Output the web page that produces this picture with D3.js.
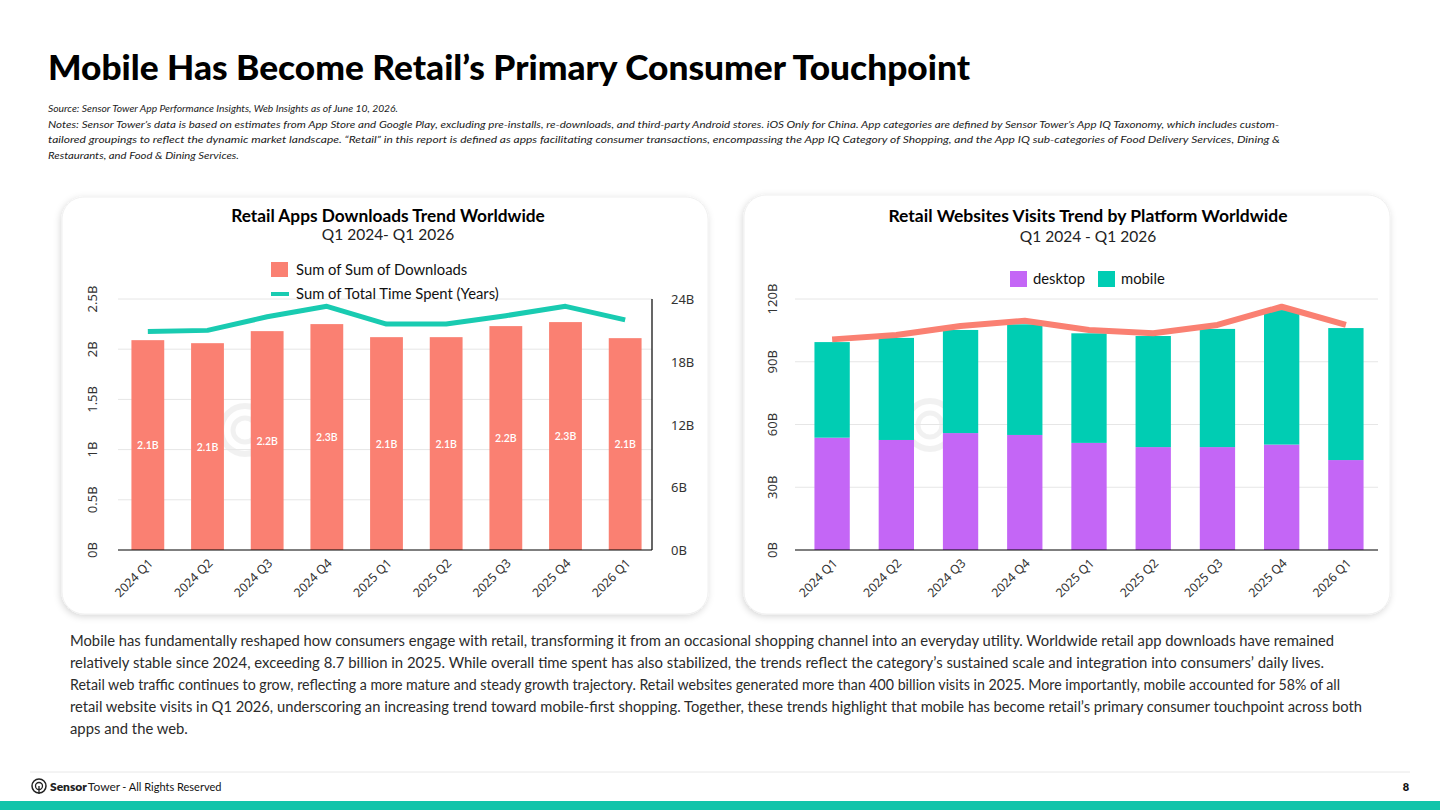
<!DOCTYPE html>
<html><head><meta charset="utf-8">
<script src="https://cdn.jsdelivr.net/npm/d3@7/dist/d3.min.js"></script>
<style>
html,body{margin:0;padding:0;background:#fff;}
svg{display:block;}
</style></head>
<body>
<svg id="chart" width="1440" height="810"></svg>
<script>
// ---------- DATA ----------
const quarters = ["2024 Q1","2024 Q2","2024 Q3","2024 Q4","2025 Q1","2025 Q2","2025 Q3","2025 Q4","2026 Q1"];
const downloadsB = [2.09, 2.06, 2.18, 2.25, 2.12, 2.12, 2.23, 2.27, 2.11];      // billions
const timeSpentB = [20.9, 21.0, 22.3, 23.3, 21.6, 21.6, 22.4, 23.3, 22.0];      // billions (years)
const desktopB = [53.7, 52.6, 55.9, 55.0, 51.2, 49.2, 49.2, 50.4, 43.0];        // billions visits
const mobileB  = [45.7, 48.8, 49.3, 52.9, 52.4, 53.1, 56.5, 64.3, 63.1];
const visitsLineB = [100.7, 102.8, 107.1, 109.6, 105.2, 103.6, 107.6, 116.3, 107.6];
const leftTicks = [0, 0.5, 1, 1.5, 2, 2.5];
const leftTickLabels = ["0B","0.5B","1B","1.5B","2B","2.5B"];
const rightTicks = [0, 6, 12, 18, 24];
const rightTickLabels = ["0B","6B","12B","18B","24B"];
const visitTicks = [0, 30, 60, 90, 120];
const visitTickLabels = ["0B","30B","60B","90B","120B"];

const titleText = "Mobile Has Become Retail\u2019s Primary Consumer Touchpoint";
const noteLines = [
 "Source: Sensor Tower App Performance Insights, Web Insights as of June 10, 2026.",
 "Notes: Sensor Tower\u2019s data is based on estimates from App Store and Google Play, excluding pre-installs, re-downloads, and third-party Android stores. iOS Only for China. App categories are defined by Sensor Tower\u2019s App IQ Taxonomy, which includes custom-",
 "tailored groupings to reflect the dynamic market landscape. \u201cRetail\u201d in this report is defined as apps facilitating consumer transactions, encompassing the App IQ Category of Shopping, and the App IQ sub-categories of Food Delivery Services, Dining &",
 "Restaurants, and Food & Dining Services."
];
const bodyLines = [
 "Mobile has fundamentally reshaped how consumers engage with retail, transforming it from an occasional shopping channel into an everyday utility. Worldwide retail app downloads have remained",
 "relatively stable since 2024, exceeding 8.7 billion in 2025. While overall time spent has also stabilized, the trends reflect the category\u2019s sustained scale and integration into consumers\u2019 daily lives.",
 "Retail web traffic continues to grow, reflecting a more mature and steady growth trajectory. Retail websites generated more than 400 billion visits in 2025. More importantly, mobile accounted for 58% of all",
 "retail website visits in Q1 2026, underscoring an increasing trend toward mobile-first shopping. Together, these trends highlight that mobile has become retail\u2019s primary consumer touchpoint across both",
 "apps and the web."
];

// ---------- STYLE ----------
const C = {salmon:"#FA8072", teal:"#19CBB1", purple:"#C466F6", mobile:"#00CDB3", grid:"#E6E6E6", text:"#333", footerTeal:"#12C4AA"};
const FONT = "Lato, 'Noto Sans', sans-serif";
const AXFONT = "'Noto Sans', sans-serif";

const svg = d3.select("#chart");
const defs = svg.append("defs");
const f = defs.append("filter").attr("id","shadow").attr("x","-10%").attr("y","-10%").attr("width","120%").attr("height","120%");
f.append("feDropShadow").attr("dx",-1).attr("dy",2).attr("stdDeviation",3.5).attr("flood-color","#000").attr("flood-opacity",0.16);

// Title
svg.append("text").attr("x",48).attr("y",80).attr("font-family",FONT).attr("font-weight",900)
  .attr("font-size",33.5).attr("fill","#000").attr("textLength",922).attr("lengthAdjust","spacingAndGlyphs").text(titleText);

// Notes
const noteY = [112, 127.5, 143, 158.5];
const noteLen = [350, 1231, 1232, 191];
noteLines.forEach((t,i)=>{
  svg.append("text").attr("x",48).attr("y",noteY[i]).attr("font-family",FONT).attr("font-style","italic")
    .attr("font-size",10.2).attr("fill","#222").attr("textLength",noteLen[i]).attr("lengthAdjust","spacingAndGlyphs").text(t);
});

// Cards
[[62,197,646,417],[744,195,646,419]].forEach(([x,y,w,h])=>{
  svg.append("rect").attr("x",x).attr("y",y).attr("width",w).attr("height",h).attr("rx",22)
    .attr("fill","#fff").attr("stroke","#F0F0F0").attr("filter","url(#shadow)");
});

// Watermark (logo mark only)
function watermark(cx, cy){
  const g = svg.append("g").attr("opacity",0.05);
  g.append("circle").attr("cx",cx).attr("cy",cy).attr("r",24).attr("fill","none").attr("stroke","#000").attr("stroke-width",6);
  g.append("circle").attr("cx",cx).attr("cy",cy).attr("r",12).attr("fill","none").attr("stroke","#000").attr("stroke-width",5);
}

// ---------- LEFT CHART ----------
{
  const x0=118, x1=655, yTop=299, yBot=550;
  watermark(245, 430);
  svg.append("text").attr("x",388).attr("y",222).attr("text-anchor","middle").attr("font-family",FONT).attr("font-weight",700).attr("font-size",17.3).attr("fill","#000").text("Retail Apps Downloads Trend Worldwide");
  svg.append("text").attr("x",388).attr("y",240).attr("text-anchor","middle").attr("font-family",FONT).attr("font-size",15.5).attr("fill","#222").text("Q1 2024- Q1 2026");

  const x = d3.scaleBand().domain(quarters).range([x0,x1]).paddingInner(0.45).paddingOuter(0.225);
  const yL = d3.scaleLinear().domain([0,2.5]).range([yBot,yTop]);
  const yR = d3.scaleLinear().domain([0,24]).range([yBot,yTop]);

  svg.append("g").selectAll("line").data(leftTicks.slice(1)).join("line")
    .attr("x1",x0).attr("x2",652).attr("y1",d=>yL(d)).attr("y2",d=>yL(d)).attr("stroke",C.grid).attr("stroke-width",1);

  svg.append("g").selectAll("rect").data(downloadsB).join("rect")
    .attr("x",(d,i)=>x(quarters[i])).attr("width",x.bandwidth()).attr("y",d=>yL(d)).attr("height",d=>yBot-yL(d)).attr("fill",C.salmon);
  const fmt = d3.format(".1f");
  svg.append("g").selectAll("text").data(downloadsB).join("text")
    .attr("x",(d,i)=>x(quarters[i])+x.bandwidth()/2).attr("y",d=>(yL(d)+yBot)/2+4).attr("text-anchor","middle")
    .attr("font-family",FONT).attr("font-weight",600).attr("font-size",10.5).attr("fill","#fff").text(d=>fmt(d)+"B");

  const line = d3.line().x((d,i)=>x(quarters[i])+x.bandwidth()/2).y(d=>yR(d));
  svg.append("path").datum(timeSpentB).attr("d",line).attr("fill","none").attr("stroke",C.teal).attr("stroke-width",5).attr("stroke-linejoin","round");

  svg.append("line").attr("x1",x0).attr("x2",652).attr("y1",yBot).attr("y2",yBot).attr("stroke","#000").attr("stroke-width",1.2);
  svg.append("line").attr("x1",652).attr("x2",652).attr("y1",yTop).attr("y2",yBot).attr("stroke","#000").attr("stroke-width",1.2);

  svg.append("g").selectAll("text").data(leftTicks).join("text")
    .attr("transform",d=>`translate(97,${yL(d)}) rotate(-90)`).attr("text-anchor","middle")
    .attr("font-family",AXFONT).attr("font-size",13).attr("fill",C.text).text((d,i)=>leftTickLabels[i]);
  svg.append("g").selectAll("text").data(rightTicks).join("text")
    .attr("x",671).attr("y",d=>yR(d)+5).attr("font-family",AXFONT).attr("font-size",13).attr("fill",C.text).text((d,i)=>rightTickLabels[i]);

  svg.append("g").selectAll("text").data(quarters).join("text")
    .attr("transform",d=>`translate(${x(d)+x.bandwidth()/2+6},${yBot+14}) rotate(-45)`).attr("text-anchor","end")
    .attr("font-family",AXFONT).attr("font-size",12.3).attr("fill",C.text).text(d=>d);

  svg.append("rect").attr("x",271).attr("y",262).attr("width",17).attr("height",15).attr("fill",C.salmon);
  svg.append("text").attr("x",296).attr("y",275).attr("font-family",FONT).attr("font-size",14.8).attr("fill","#111").text("Sum of Sum of Downloads");
  svg.append("line").attr("x1",271).attr("x2",289).attr("y1",294).attr("y2",294).attr("stroke",C.teal).attr("stroke-width",4);
  svg.append("text").attr("x",296).attr("y",299).attr("font-family",FONT).attr("font-size",14.8).attr("fill","#111").text("Sum of Total Time Spent (Years)");
}

// ---------- RIGHT CHART ----------
{
  const x0=800, x1=1378, yTop=299, yBot=550;
  watermark(930, 425);
  svg.append("text").attr("x",1088).attr("y",222).attr("text-anchor","middle").attr("font-family",FONT).attr("font-weight",700).attr("font-size",17.5).attr("fill","#000").text("Retail Websites Visits Trend by Platform Worldwide");
  svg.append("text").attr("x",1088).attr("y",242).attr("text-anchor","middle").attr("font-family",FONT).attr("font-size",15.5).attr("fill","#222").text("Q1 2024 - Q1 2026");

  const x = d3.scaleBand().domain(quarters).range([x0,x1]).paddingInner(0.45).paddingOuter(0.225);
  const y = d3.scaleLinear().domain([0,120]).range([yBot,yTop]);

  svg.append("g").selectAll("line").data(visitTicks.slice(1)).join("line")
    .attr("x1",795).attr("x2",x1).attr("y1",d=>y(d)).attr("y2",d=>y(d)).attr("stroke",C.grid).attr("stroke-width",1);

  const rows = quarters.map((q,i)=>({q, desktop:desktopB[i], mobile:mobileB[i]}));
  const stack = d3.stack().keys(["desktop","mobile"])(rows);
  const col = {desktop:C.purple, mobile:C.mobile};
  svg.append("g").selectAll("g").data(stack).join("g").attr("fill",s=>col[s.key])
    .selectAll("rect").data(s=>s).join("rect")
    .attr("x",d=>x(d.data.q)).attr("width",x.bandwidth()).attr("y",d=>y(d[1])).attr("height",d=>y(d[0])-y(d[1]));

  const line = d3.line().x((d,i)=>x(quarters[i])+x.bandwidth()/2).y(d=>y(d));
  svg.append("path").datum(visitsLineB).attr("d",line).attr("fill","none").attr("stroke",C.salmon).attr("stroke-width",6).attr("stroke-linejoin","round");

  svg.append("line").attr("x1",795).attr("x2",x1).attr("y1",yBot).attr("y2",yBot).attr("stroke","#000").attr("stroke-width",1.2);

  svg.append("g").selectAll("text").data(visitTicks).join("text")
    .attr("transform",d=>`translate(777,${y(d)}) rotate(-90)`).attr("text-anchor","middle")
    .attr("font-family",AXFONT).attr("font-size",13).attr("fill",C.text).text((d,i)=>visitTickLabels[i]);

  svg.append("g").selectAll("text").data(quarters).join("text")
    .attr("transform",d=>`translate(${x(d)+x.bandwidth()/2+6},${yBot+14}) rotate(-45)`).attr("text-anchor","end")
    .attr("font-family",AXFONT).attr("font-size",12.3).attr("fill",C.text).text(d=>d);

  svg.append("rect").attr("x",1010).attr("y",271).attr("width",17).attr("height",16).attr("fill",C.purple);
  svg.append("text").attr("x",1033).attr("y",284).attr("font-family",FONT).attr("font-size",14.8).attr("fill","#111").text("desktop");
  svg.append("rect").attr("x",1098).attr("y",271).attr("width",17).attr("height",16).attr("fill",C.mobile);
  svg.append("text").attr("x",1121).attr("y",284).attr("font-family",FONT).attr("font-size",14.8).attr("fill","#111").text("mobile");
}

// ---------- BODY TEXT ----------
const bodyLen = [1264, 1254, 1270, 1292, null];
bodyLines.forEach((t,i)=>{
  const el = svg.append("text").attr("x",70).attr("y",646+i*22).attr("font-family",FONT).attr("font-size",14.8).attr("fill","#2b2b2b").text(t);
  if(bodyLen[i]) el.attr("textLength",bodyLen[i]).attr("lengthAdjust","spacingAndGlyphs");
});

// ---------- FOOTER ----------
svg.append("line").attr("x1",30).attr("x2",1410).attr("y1",772).attr("y2",772).attr("stroke","#E8E8E8").attr("stroke-width",1);
svg.append("circle").attr("cx",39).attr("cy",786).attr("r",7).attr("fill","none").attr("stroke","#222").attr("stroke-width",1.5);
svg.append("circle").attr("cx",39).attr("cy",786).attr("r",3.5).attr("fill","none").attr("stroke","#222").attr("stroke-width",1.3);
svg.append("line").attr("x1",39).attr("x2",39).attr("y1",786).attr("y2",794).attr("stroke","#222").attr("stroke-width",1.3);
const foot = svg.append("text").attr("x",50).attr("y",791).attr("font-family",FONT).attr("fill","#222");
foot.append("tspan").attr("font-weight",800).attr("font-size",12).text("Sensor");
foot.append("tspan").attr("font-weight",400).attr("font-size",12).attr("dx",1).text("Tower");
foot.append("tspan").attr("font-weight",400).attr("font-size",11).attr("fill","#111").attr("dx",2).text("- All Rights Reserved");
svg.append("text").attr("x",1406).attr("y",791).attr("text-anchor","middle").attr("font-family",FONT).attr("font-weight",800).attr("font-size",11).attr("fill","#111").text("8");
svg.append("rect").attr("x",0).attr("y",801).attr("width",1440).attr("height",9).attr("fill",C.footerTeal);
</script>
</body></html>
